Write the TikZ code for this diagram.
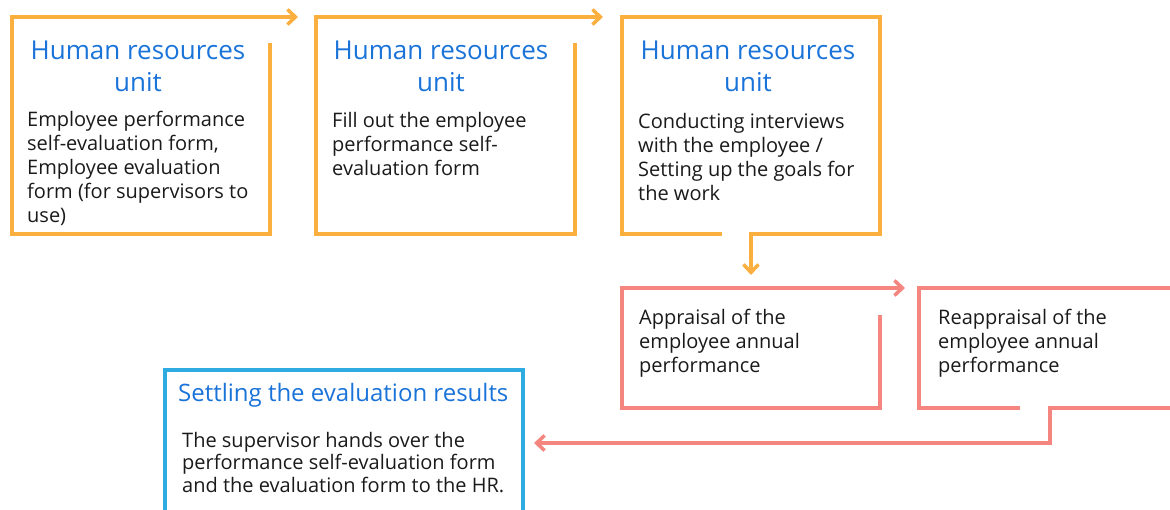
\documentclass[tikz,border=0pt]{standalone}
\usepackage{fontspec}
\setmainfont{Open Sans}
\usetikzlibrary{arrows.meta,calc}
\definecolor{hrorange}{HTML}{FBAF3F}
\definecolor{hrpink}{HTML}{F4857F}
\definecolor{hrblue}{HTML}{2EACE2}
\definecolor{titleblue}{HTML}{1A73D9}
\definecolor{bodyblack}{HTML}{1A1A1A}
\tikzset{
  ln/.style={line width=3.5pt},
  oline/.style={ln,draw=hrorange},
  pline/.style={ln,draw=hrpink},
  bline/.style={ln,draw=hrblue},
  tip/.style={-{Straight Barb[length=8pt,width=15pt,line width=3.5pt]}},
  title/.style={text=titleblue,font=\fontsize{26}{31.5}\selectfont,align=center,inner sep=0pt,anchor=base},
  body/.style={text=bodyblack,font=\fontsize{20}{24}\selectfont,align=left,anchor=base west,inner sep=0pt}
}
\begin{document}
\begin{tikzpicture}[x=1pt,y=-1pt]
\useasboundingbox (0,0) rectangle (1170,510);
% frame corners
\coordinate (b1nw) at (12,17);   \coordinate (b1se) at (270,234);
\coordinate (b2nw) at (316,17);  \coordinate (b2se) at (575,234);
\coordinate (b3nw) at (622,17);  \coordinate (b3se) at (880,234);
\coordinate (b4nw) at (622,288); \coordinate (b4se) at (880,408);
\coordinate (b5nw) at (919,288); \coordinate (b5se) at (1170,408);
\coordinate (b6nw) at (165,370); \coordinate (b6se) at (523,510);
% texts (anchor base = baseline of last line)
\node[title] (t1) at (138,91.5) {Human resources\\unit};
\node[body] (d1) at (27,222.5) {Employee performance\\self-evaluation form,\\Employee evaluation\\form (for supervisors to\\use)};
\node[title] (t2) at (441,91.5) {Human resources\\unit};
\node[body] (d2) at (332,176) {Fill out the employee\\performance self-\\evaluation form};
\node[title] (t3) at (748,91.5) {Human resources\\unit};
\node[body] (d3) at (638,201) {Conducting interviews\\with the employee /\\Setting up the goals for\\the work};
\node[body] (d4) at (639,373) {Appraisal of the\\employee annual\\performance};
\node[body] (d5) at (938,373) {Reappraisal of the\\employee annual\\performance};
\node[title,anchor=base west,font=\fontsize{24}{30}\selectfont] (t6) at (178,401.5) {Settling the evaluation results};
\node[body,font=\fontsize{20}{22.5}\selectfont] (d6) at (182,492.3) {The supervisor hands over the\\performance self-evaluation form\\and the evaluation form to the HR.};
% box 1 -> box 2
\coordinate (a12) at (298,17);
\draw[oline,tip] (270,43) |- (b1nw |- b1se) |- (a12);
% box 2 -> box 3
\coordinate (a23) at (603,17);
\draw[oline,tip] (575,43) |- (b2nw |- b2se) |- (a23);
% box 3 -> box 4
\coordinate (a34) at (751,275);
\draw[oline,tip] (722,234) -| (b3nw) -| (b3se) -- (751,234) -- (a34);
% box 4 -> box 5
\coordinate (a45) at (905,288);
\draw[pline,tip] (880,315) |- (b4nw |- b4se) |- (a45);
% box 5
\draw[pline] (1020,408) -| (b5nw) -- (1170,288);
\coordinate (a56) at (534,443);
\draw[pline,tip] (1170,408) -- (1050,408) |- (a56);
% box 6
\draw[bline] (165,510) |- (b6se |- b6nw) -- (b6se);
\end{tikzpicture}
\end{document}
